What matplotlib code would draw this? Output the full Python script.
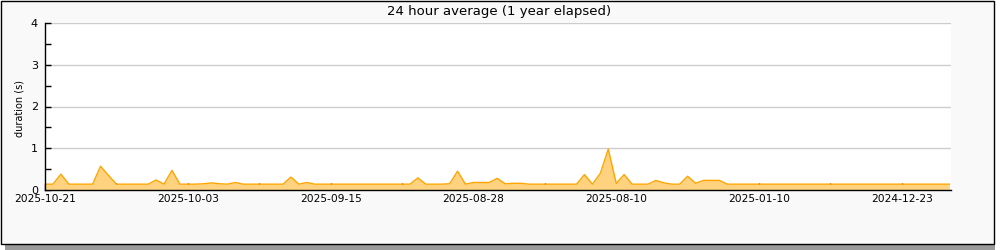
import matplotlib
matplotlib.use("Agg")
import matplotlib.pyplot as plt
from matplotlib.patches import Rectangle
from matplotlib.ticker import MultipleLocator

# daily 24h average durations (s), newest first
durations = [
    0.14, 0.14, 0.38, 0.14, 0.14, 0.14, 0.14, 0.57, 0.35, 0.14,
    0.14, 0.14, 0.14, 0.14, 0.24, 0.14, 0.47, 0.14, 0.14, 0.14,
    0.15, 0.17, 0.15, 0.14, 0.18, 0.14, 0.14, 0.14, 0.14, 0.14,
    0.14, 0.31, 0.14, 0.18, 0.14, 0.14, 0.14, 0.14, 0.14, 0.14,
    0.14, 0.14, 0.14, 0.14, 0.14, 0.14, 0.14, 0.29, 0.14, 0.14,
    0.14, 0.15, 0.45, 0.14, 0.18, 0.18, 0.18, 0.28, 0.15, 0.16,
    0.16, 0.14, 0.14, 0.14, 0.14, 0.14, 0.14, 0.14, 0.37, 0.14,
    0.40, 0.98, 0.16, 0.37, 0.14, 0.14, 0.14, 0.23, 0.17, 0.14,
    0.14, 0.33, 0.16, 0.23, 0.23, 0.23, 0.14, 0.14, 0.14, 0.14,
    0.14, 0.14, 0.14, 0.14, 0.14, 0.14, 0.14, 0.14, 0.14, 0.14,
    0.14, 0.14, 0.14, 0.14, 0.14, 0.14, 0.14, 0.14, 0.14, 0.14,
    0.14, 0.14, 0.14, 0.14, 0.14,
]
days = list(range(len(durations)))

tick_pos = [0, 18, 36, 54, 72, 90, 108]
tick_labels = ["2025-10-21", "2025-10-03", "2025-09-15", "2025-08-28",
               "2025-08-10", "2025-01-10", "2024-12-23"]

W, H = 1000, 250
fig = plt.figure(figsize=(10, 2.5), dpi=100, facecolor="white")

# frame with drop shadow
fig.patches.append(Rectangle((5 / W, 0), 990 / W, 1 - 6 / H, transform=fig.transFigure,
                             facecolor="#9a9a9a", edgecolor="none", zorder=-3))
fig.patches.append(Rectangle((0.5 / W, 6.5 / H), 993 / W, 1 - 7.5 / H, transform=fig.transFigure,
                             facecolor="#f9f9f9", edgecolor="black", lw=1, zorder=-2))

ax = fig.add_axes([45 / W, 60 / H, 906 / W, 167 / H])
ax.set_facecolor("white")

ax.fill_between(days, durations, 0, color="#ffd27f", lw=0, zorder=2)
ax.plot(days, durations, color="#ffa500", lw=1, zorder=3)

ax.set_xlim(0, 114.2)
ax.set_ylim(0, 4)

ax.yaxis.set_major_locator(MultipleLocator(1))
ax.yaxis.set_minor_locator(MultipleLocator(0.5))
ax.set_xticks(tick_pos)
ax.set_xticklabels(tick_labels)
ax.xaxis.set_minor_locator(MultipleLocator(9))

ax.grid(axis="y", color="#cccccc", lw=1, zorder=1)
ax.set_axisbelow(True)
for s in ["top", "right"]:
    ax.spines[s].set_visible(False)
for s in ["left", "bottom"]:
    ax.spines[s].set_color("black")
    ax.spines[s].set_linewidth(1)
    ax.spines[s].set_zorder(4)

ax.tick_params(axis="both", which="both", direction="in", color="black", width=1)
ax.tick_params(axis="y", which="major", length=4.5, pad=5, labelsize=8)
ax.tick_params(axis="y", which="minor", length=4)
ax.tick_params(axis="x", which="both", length=5, pad=3.2, labelsize=7.7)

fig.text(499 / W, 1 - 11 / H, "24 hour average (1 year elapsed)", ha="center", va="center",
         fontsize=9.5, color="black")
fig.text(20 / W, 1 - 137 / H, "duration (s)", ha="center", va="bottom", rotation=90,
         fontsize=7, color="black")

fig.savefig("out.png", dpi=100, facecolor=fig.get_facecolor())
